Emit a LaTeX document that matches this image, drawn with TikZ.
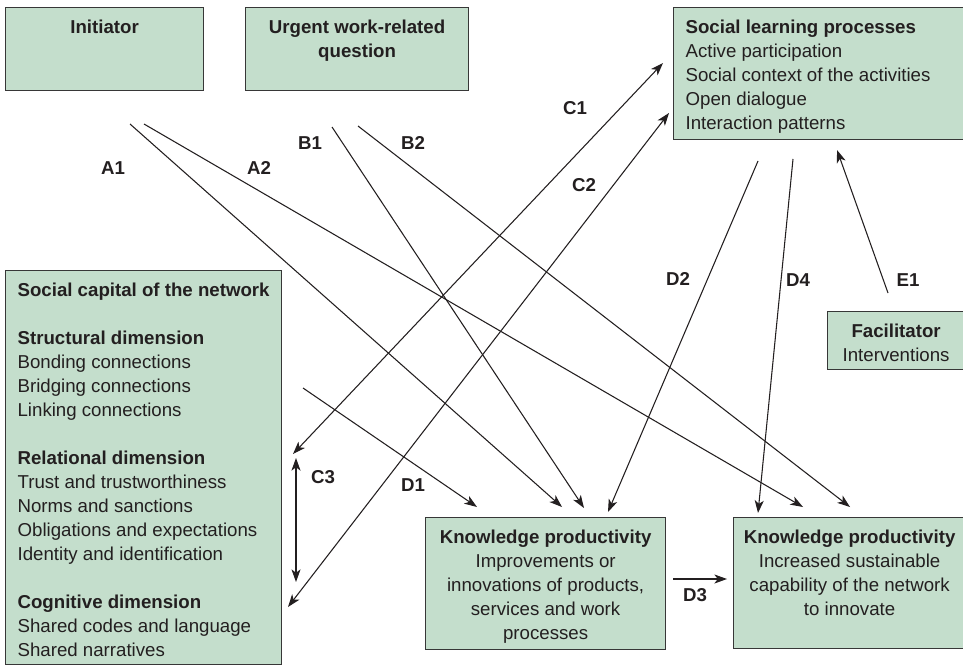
\documentclass[tikz,border=0pt]{standalone}
\usepackage{fontspec}
\setmainfont{Liberation Sans}
\usepackage{tikz}
\usetikzlibrary{arrows.meta}
\definecolor{boxgreen}{RGB}{196,222,204}
\definecolor{boxline}{RGB}{55,55,55}
\definecolor{inkgray}{RGB}{35,31,32}
\tikzset{>={Stealth[length=9.5pt,width=6.8pt,inset=2.6pt]}}
\tikzset{box/.style={draw=boxline,fill=boxgreen,line width=0.9pt,anchor=north west,
    inner xsep=9pt,inner ysep=7pt,font=\fontsize{14}{18}\selectfont,text=inkgray}}
\tikzset{lbl/.style={font=\fontsize{14}{18}\selectfont\bfseries,text=inkgray,inner sep=0pt}}
\tikzset{conn/.style={line width=0.8pt,draw=inkgray}}
\newcommand{\boxtext}[4][9pt]{\parbox[t][\dimexpr#3pt*3/4-14pt\relax][t]{\dimexpr#2pt*3/4-2\dimexpr#1\relax\relax}{#4}}

\begin{document}
\begin{tikzpicture}[x=0.75pt,y=-0.75pt]
      \useasboundingbox (0,0) rectangle (963,667);

      \node [box] (init) at (5,7)
      {\boxtext{198}{83}{\centering\strut\textbf{Initiator}}};

      \node [box] (urgent) at (245,7)
      {\boxtext{223}{83}{\centering\strut\textbf{Urgent work-related}\\\textbf{question}}};

      \node [box] (slp) at (673,7)
      {\boxtext{293}{132}{\raggedright\strut\textbf{Social learning processes}\\
      Active participation\\Social context of the activities\\Open dialogue\\
      Interaction patterns}};

      \node [box] (scap) at (5,270)
      {\boxtext{276}{394}{\raggedright\strut\textbf{Social capital of the network}\\[18pt]
      \textbf{Structural dimension}\\Bonding connections\\Bridging connections\\
      Linking connections\\[18pt]
      \textbf{Relational dimension}\\Trust and trustworthiness\\Norms and sanctions\\
      Obligations and expectations\\Identity and identification\\[18pt]
      \textbf{Cognitive dimension}\\Shared codes and language\\Shared narratives}};

      \node [box, inner xsep=4pt] (facil) at (827,311)
      {\boxtext[4pt]{137}{58}{\centering\strut\textbf{Facilitator}\\Interventions}};

      \node [box, inner xsep=4pt] (kp1) at (425,517)
      {\boxtext[4pt]{240}{132}{\centering\strut\textbf{Knowledge productivity}\\
      Improvements or\\innovations of products,\\services and work\\processes}};

      \node [box, inner xsep=3pt] (kp2) at (733,517)
      {\boxtext[3pt]{232}{131}{\centering\strut\textbf{Knowledge productivity}\\
      Increased sustainable\\capability of the network\\to innovate}};

      \coordinate (a1s) at (130,124);
      \coordinate (a1e) at (562,507);
      \coordinate (a2s) at (144,124);
      \coordinate (a2e) at (803,507);
      \coordinate (b1s) at (332,127);
      \coordinate (b1e) at (584,508);
      \coordinate (b2s) at (358,126);
      \coordinate (b2e) at (850,507);
      \coordinate (c1s) at (293,454);
      \coordinate (c1e) at (663,63);
      \coordinate (c2s) at (288,607);
      \coordinate (c2e) at (669,113);
      \coordinate (c3s) at (296,458);
      \coordinate (c3e) at (296,582);
      \coordinate (d1s) at (303,388);
      \coordinate (d1e) at (477,507);
      \coordinate (d2s) at (758,161);
      \coordinate (d2e) at (608,512);
      \coordinate (d3s) at (673,579);
      \coordinate (d3e) at (727,579);
      \coordinate (d4s) at (793,159);
      \coordinate (d4e) at (758,513);
      \coordinate (e1s) at (888,293);
      \coordinate (e1e) at (837,150);

      \draw [conn, ->] (a1s) -- (a1e);
      \draw [conn, ->] (a2s) -- (a2e);
      \draw [conn, ->] (b1s) -- (b1e);
      \draw [conn, ->] (b2s) -- (b2e);
      \draw [conn, <->] (c1s) -- (c1e);
      \draw [conn, <->] (c2s) -- (c2e);
      \draw [conn, <->] (c3s) -- (c3e);
      \draw [conn, ->] (d1s) -- (d1e);
      \draw [conn, ->] (d2s) -- (d2e);
      \draw [conn, ->] (d3s) -- (d3e);
      \draw [conn, ->] (d4s) -- (d4e);
      \draw [conn, ->] (e1s) -- (e1e);

      \node [lbl] (la1) at (113,168) {A1};
      \node [lbl] (la2) at (259,168) {A2};
      \node [lbl] (lb1) at (310,143) {B1};
      \node [lbl] (lb2) at (413,143) {B2};
      \node [lbl] (lc1) at (575,108) {C1};
      \node [lbl] (lc2) at (584,185) {C2};
      \node [lbl] (lc3) at (323,477) {C3};
      \node [lbl] (ld1) at (413,485) {D1};
      \node [lbl] (ld2) at (678,279) {D2};
      \node [lbl] (ld3) at (695,595) {D3};
      \node [lbl] (ld4) at (798,280) {D4};
      \node [lbl] (le1) at (908,280) {E1};
  \end{tikzpicture}
\end{document}
